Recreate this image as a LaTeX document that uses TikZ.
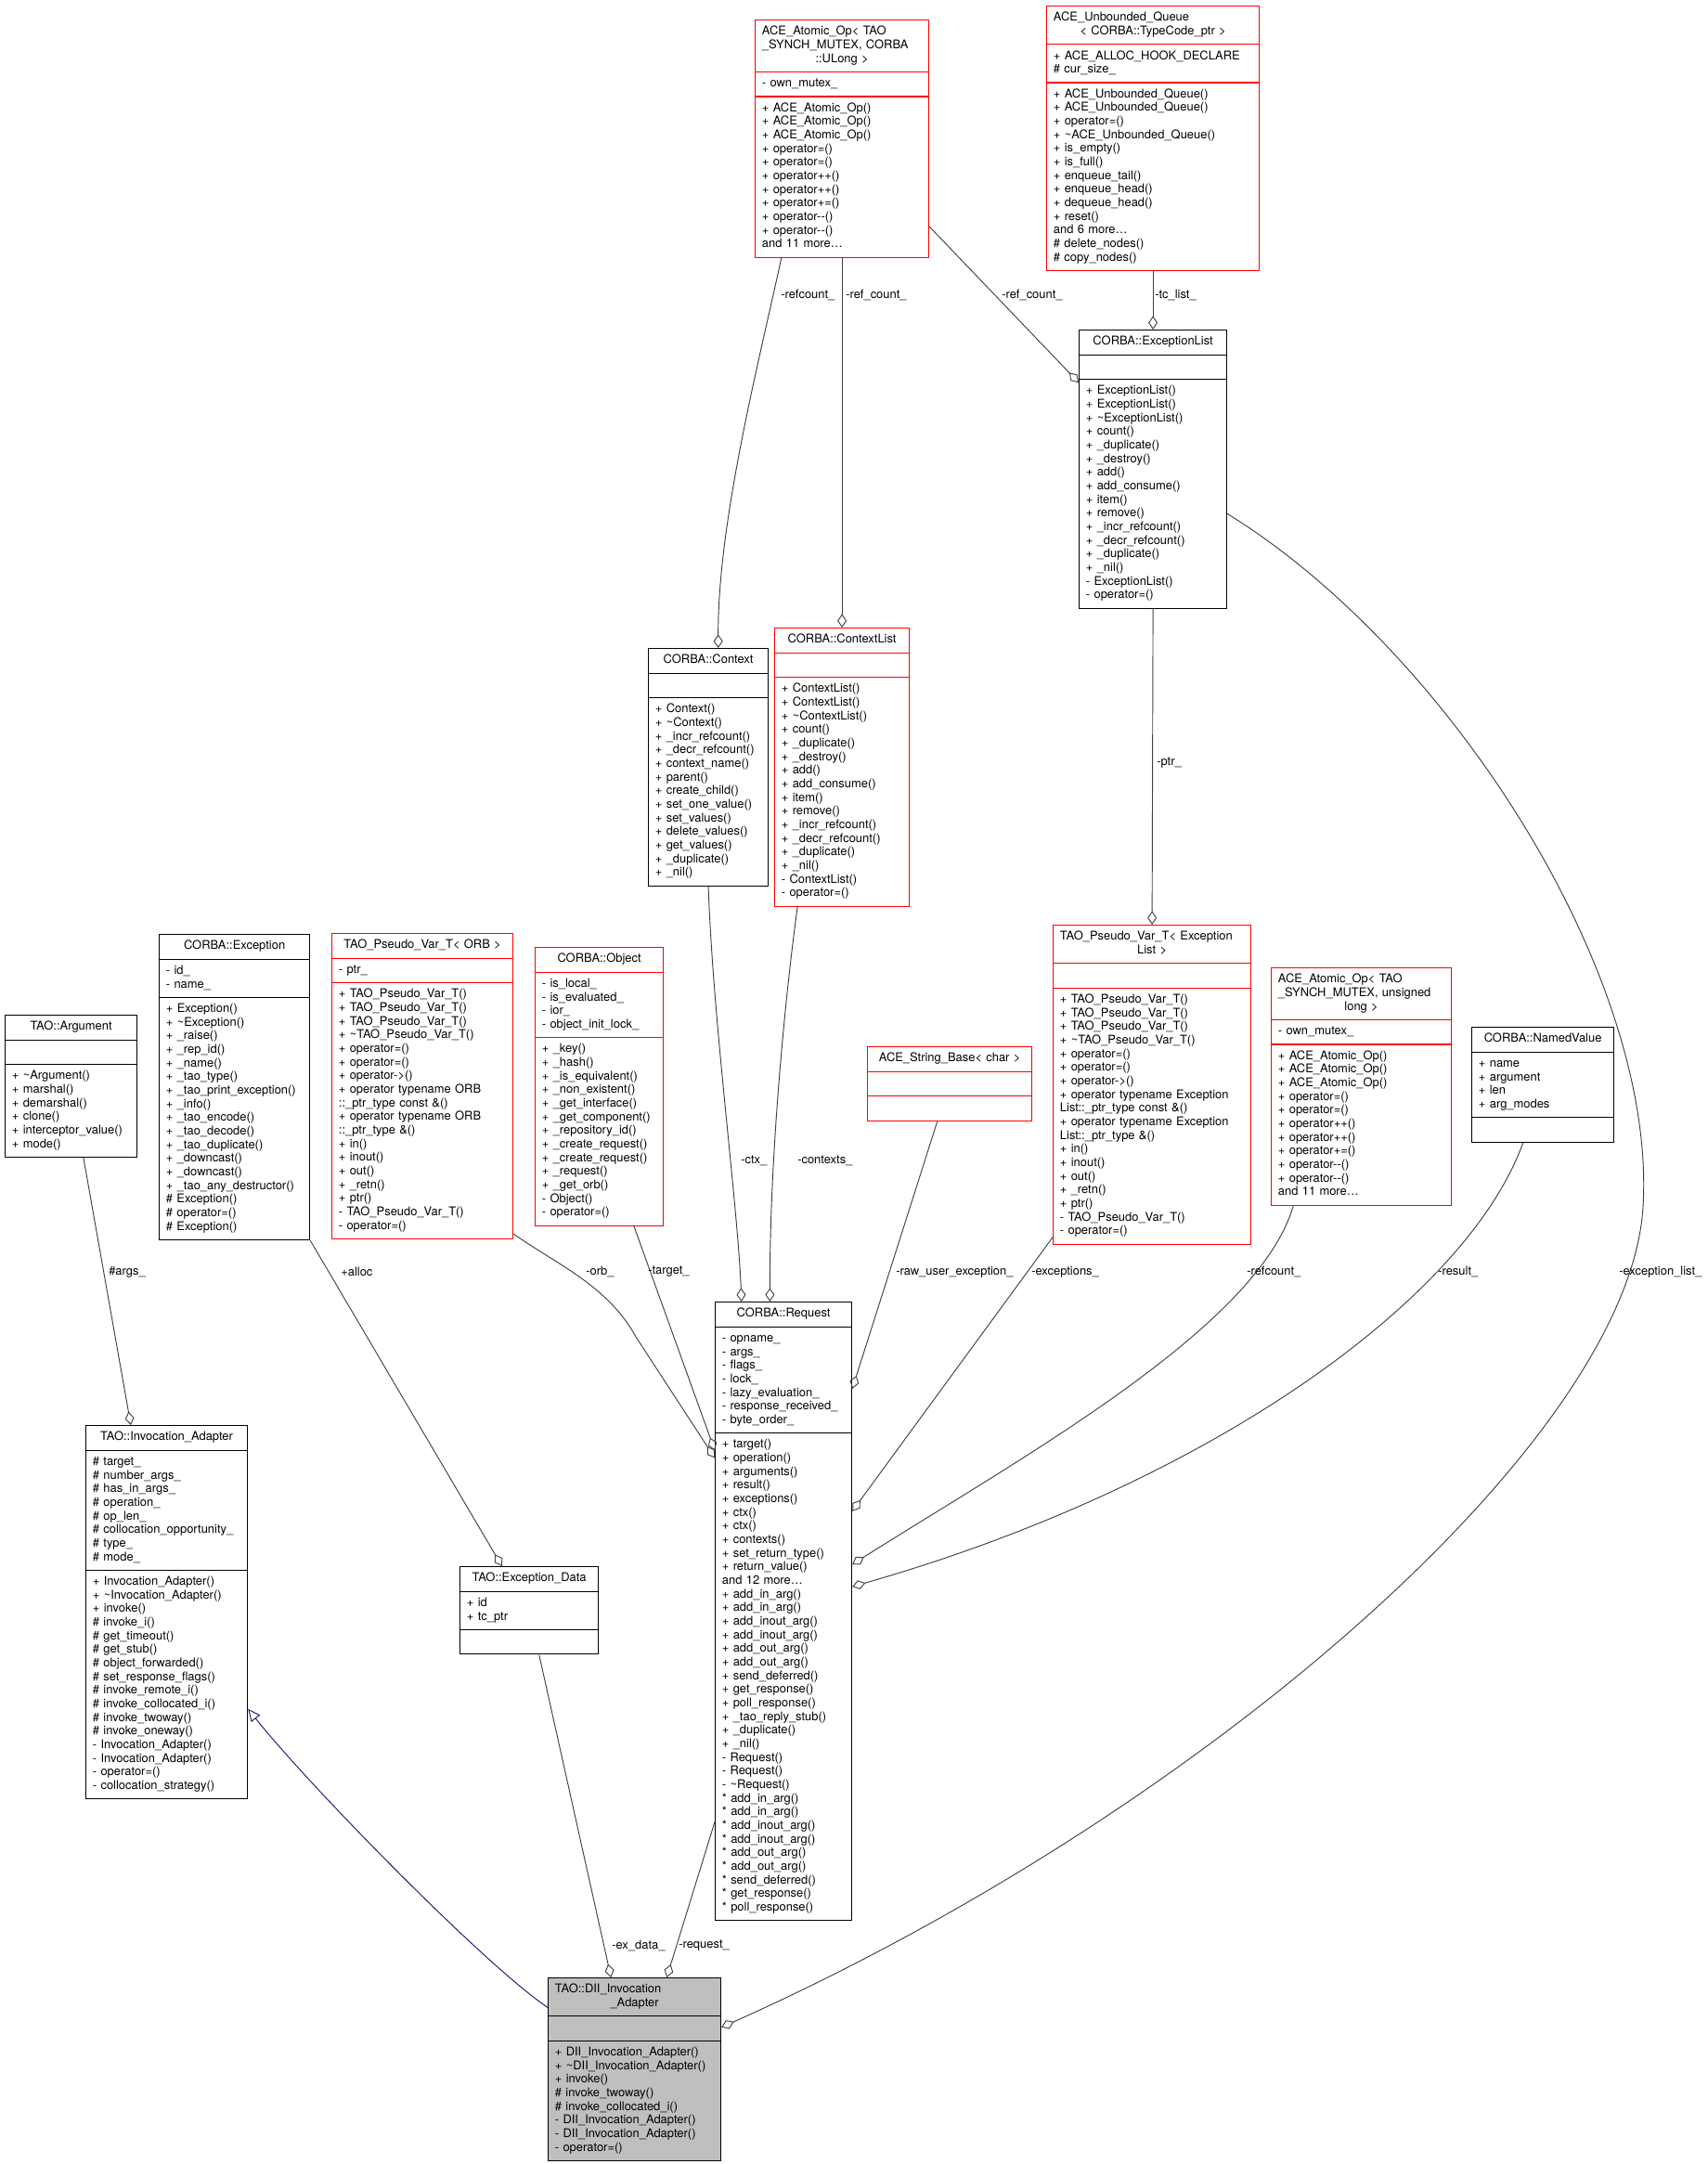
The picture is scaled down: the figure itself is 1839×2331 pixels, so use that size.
\documentclass[tikz,border=0pt]{standalone}
\usepackage{fontspec}
\setmainfont{TeX Gyre Heros}
\usepackage{tikz}
\usetikzlibrary{shapes.multipart,arrows.meta}

\definecolor{edgegray}{HTML}{404040}
\definecolor{inhblue}{HTML}{191970}
\definecolor{clsred}{HTML}{FF0000}
\definecolor{clsgray}{HTML}{BFBFBF}
\setlength{\parindent}{0pt}
\newcommand{\ctr}[1]{\leavevmode\hbox to\hsize{\hfil\strut#1\hfil}}

\tikzset{
  cls/.style={rectangle split, rectangle split parts=3, draw=black, line width=0.9pt,
    anchor=north west, inner xsep=5.5pt, inner ysep=4pt, align=left,
    font=\fontsize{9.7}{11}\selectfont},
  redcls/.style={cls, draw=clsred},
  agg/.style={draw=edgegray, line width=0.7pt, -{Diamond[open, length=11pt, width=7.5pt]}},
  inh/.style={draw=inhblue, line width=0.7pt, -{Triangle[open, length=10pt, width=9pt]}},
  lbl/.style={anchor=west, inner sep=0pt, font=\fontsize{9.7}{11}\selectfont}
}

\begin{document}
\begin{tikzpicture}[x=0.75pt,y=0.75pt,yscale=-1,xscale=1]
\useasboundingbox (0,0) rectangle (1839,2331);

% Class Node
\node [redcls, text width=129.25pt] (atomicUL) at (813,21) {\strut ACE\_Atomic\_Op< TAO\\\_SYNCH\_MUTEX, CORBA\\\ctr{::ULong >}
\nodepart{two}\strut-~own\_mutex\_\strut
\nodepart{three}\strut+~ACE\_Atomic\_Op()\\+~ACE\_Atomic\_Op()\\+~ACE\_Atomic\_Op()\\+~operator=()\\+~operator=()\\+~operator++()\\+~operator++()\\+~operator+=()\\+~operator-{}-()\\+~operator-{}-()\\and 11 more\ldots\strut};
% Class Node
\node [redcls, text width=160.75pt] (queue) at (1127,6) {\strut ACE\_Unbounded\_Queue\\\ctr{< CORBA::TypeCode\_ptr >}
\nodepart{two}\strut+~ACE\_ALLOC\_HOOK\_DECLARE\\\#~cur\_size\_\strut
\nodepart{three}\strut+~ACE\_Unbounded\_Queue()\\+~ACE\_Unbounded\_Queue()\\+~operator=()\\+~\textasciitilde ACE\_Unbounded\_Queue()\\+~is\_empty()\\+~is\_full()\\+~enqueue\_tail()\\+~enqueue\_head()\\+~dequeue\_head()\\+~reset()\\and 6 more\ldots\\\#~delete\_nodes()\\\#~copy\_nodes()\strut};
% Class Node
\node [cls, text width=108.25pt] (exlist) at (1162,355) {\ctr{CORBA::ExceptionList}
\nodepart{two}\strut
\nodepart{three}\strut+~ExceptionList()\\+~ExceptionList()\\+~\textasciitilde ExceptionList()\\+~count()\\+~\_duplicate()\\+~\_destroy()\\+~add()\\+~add\_consume()\\+~item()\\+~remove()\\+~\_incr\_refcount()\\+~\_decr\_refcount()\\+~\_duplicate()\\+~\_nil()\\-~ExceptionList()\\-~operator=()\strut};
% Class Node
\node [cls, text width=85.75pt] (context) at (698,698) {\ctr{CORBA::Context}
\nodepart{two}\strut
\nodepart{three}\strut+~Context()\\+~\textasciitilde Context()\\+~\_incr\_refcount()\\+~\_decr\_refcount()\\+~context\_name()\\+~parent()\\+~create\_child()\\+~set\_one\_value()\\+~set\_values()\\+~delete\_values()\\+~get\_values()\\+~\_duplicate()\\+~\_nil()\strut};
% Class Node
\node [redcls, text width=97.75pt] (ctxlist) at (834,676) {\ctr{CORBA::ContextList}
\nodepart{two}\strut
\nodepart{three}\strut+~ContextList()\\+~ContextList()\\+~\textasciitilde ContextList()\\+~count()\\+~\_duplicate()\\+~\_destroy()\\+~add()\\+~add\_consume()\\+~item()\\+~remove()\\+~\_incr\_refcount()\\+~\_decr\_refcount()\\+~\_duplicate()\\+~\_nil()\\-~ContextList()\\-~operator=()\strut};
% Class Node
\node [cls, text width=95.5pt] (argument) at (5,1093) {\ctr{TAO::Argument}
\nodepart{two}\strut
\nodepart{three}\strut+~\textasciitilde Argument()\\+~marshal()\\+~demarshal()\\+~clone()\\+~interceptor\_value()\\+~mode()\strut};
% Class Node
\node [cls, text width=110.5pt] (exception) at (171,1006) {\ctr{CORBA::Exception}
\nodepart{two}\strut-~id\_\\-~name\_\strut
\nodepart{three}\strut+~Exception()\\+~\textasciitilde Exception()\\+~\_raise()\\+~\_rep\_id()\\+~\_name()\\+~\_tao\_type()\\+~\_tao\_print\_exception()\\+~\_info()\\+~\_tao\_encode()\\+~\_tao\_decode()\\+~\_tao\_duplicate()\\+~\_downcast()\\+~\_downcast()\\+~\_tao\_any\_destructor()\\\#~Exception()\\\#~operator=()\\\#~Exception()\strut};
% Class Node
\node [redcls, text width=135.25pt] (pvorb) at (357,1005) {\ctr{TAO\_Pseudo\_Var\_T< ORB >}
\nodepart{two}\strut-~ptr\_\strut
\nodepart{three}\strut+~TAO\_Pseudo\_Var\_T()\\+~TAO\_Pseudo\_Var\_T()\\+~TAO\_Pseudo\_Var\_T()\\+~\textasciitilde TAO\_Pseudo\_Var\_T()\\+~operator=()\\+~operator=()\\+~operator->()\\+~operator typename ORB\\::\_ptr\_type const \&()\\+~operator typename ORB\\::\_ptr\_type \&()\\+~in()\\+~inout()\\+~out()\\+~\_retn()\\+~ptr()\\-~TAO\_Pseudo\_Var\_T()\\-~operator=()\strut};
% Class Node
\node [redcls, text width=92.5pt] (object) at (576,1020) {\ctr{CORBA::Object}
\nodepart{two}\strut-~is\_local\_\\-~is\_evaluated\_\\-~ior\_\\-~object\_init\_lock\_\strut
\nodepart{three}\strut+~\_key()\\+~\_hash()\\+~\_is\_equivalent()\\+~\_non\_existent()\\+~\_get\_interface()\\+~\_get\_component()\\+~\_repository\_id()\\+~\_create\_request()\\+~\_create\_request()\\+~\_request()\\+~\_get\_orb()\\-~Object()\\-~operator=()\strut};
% Class Node
\node [redcls, text width=148.75pt] (pvexl) at (1134,996) {\strut TAO\_Pseudo\_Var\_T< Exception\\\ctr{List >}
\nodepart{two}\strut
\nodepart{three}\strut+~TAO\_Pseudo\_Var\_T()\\+~TAO\_Pseudo\_Var\_T()\\+~TAO\_Pseudo\_Var\_T()\\+~\textasciitilde TAO\_Pseudo\_Var\_T()\\+~operator=()\\+~operator=()\\+~operator->()\\+~operator typename Exception\\List::\_ptr\_type const \&()\\+~operator typename Exception\\List::\_ptr\_type \&()\\+~in()\\+~inout()\\+~out()\\+~\_retn()\\+~ptr()\\-~TAO\_Pseudo\_Var\_T()\\-~operator=()\strut};
% Class Node
\node [redcls, text width=134.5pt] (atomicL) at (1369,1042) {\strut ACE\_Atomic\_Op< TAO\\\_SYNCH\_MUTEX, unsigned\\\ctr{long >}
\nodepart{two}\strut-~own\_mutex\_\strut
\nodepart{three}\strut+~ACE\_Atomic\_Op()\\+~ACE\_Atomic\_Op()\\+~ACE\_Atomic\_Op()\\+~operator=()\\+~operator=()\\+~operator++()\\+~operator++()\\+~operator+=()\\+~operator-{}-()\\+~operator-{}-()\\and 11 more\ldots\strut};
% Class Node
\node [cls, text width=103.75pt] (namedvalue) at (1585,1106) {\ctr{CORBA::NamedValue}
\nodepart{two}\strut+~name\\+~argument\\+~len\\+~arg\_modes\strut
\nodepart{three}\strut};
% Class Node
\node [redcls, text width=121.75pt] (strbase) at (934,1127) {\ctr{ACE\_String\_Base< char >}
\nodepart{two}\strut
\nodepart{three}\strut};
% Class Node
\node [cls, text width=99.25pt] (request) at (770,1402) {\ctr{CORBA::Request}
\nodepart{two}\strut-~opname\_\\-~args\_\\-~flags\_\\-~lock\_\\-~lazy\_evaluation\_\\-~response\_received\_\\-~byte\_order\_\strut
\nodepart{three}\strut+~target()\\+~operation()\\+~arguments()\\+~result()\\+~exceptions()\\+~ctx()\\+~ctx()\\+~contexts()\\+~set\_return\_type()\\+~return\_value()\\and 12 more\ldots\\+~add\_in\_arg()\\+~add\_in\_arg()\\+~add\_inout\_arg()\\+~add\_inout\_arg()\\+~add\_out\_arg()\\+~add\_out\_arg()\\+~send\_deferred()\\+~get\_response()\\+~poll\_response()\\+~\_tao\_reply\_stub()\\+~\_duplicate()\\+~\_nil()\\-~Request()\\-~Request()\\-~\textasciitilde Request()\\{*}~add\_in\_arg()\\{*}~add\_in\_arg()\\{*}~add\_inout\_arg()\\{*}~add\_inout\_arg()\\{*}~add\_out\_arg()\\{*}~add\_out\_arg()\\{*}~send\_deferred()\\{*}~get\_response()\\{*}~poll\_response()\strut};
% Class Node
\node [cls, text width=119.5pt] (invadapter) at (92,1535) {\ctr{TAO::Invocation\_Adapter}
\nodepart{two}\strut\#~target\_\\\#~number\_args\_\\\#~has\_in\_args\_\\\#~operation\_\\\#~op\_len\_\\\#~collocation\_opportunity\_\\\#~type\_\\\#~mode\_\strut
\nodepart{three}\strut+~Invocation\_Adapter()\\+~\textasciitilde Invocation\_Adapter()\\+~invoke()\\\#~invoke\_i()\\\#~get\_timeout()\\\#~get\_stub()\\\#~object\_forwarded()\\\#~set\_response\_flags()\\\#~invoke\_remote\_i()\\\#~invoke\_collocated\_i()\\\#~invoke\_twoway()\\\#~invoke\_oneway()\\-~Invocation\_Adapter()\\-~Invocation\_Adapter()\\-~operator=()\\-~collocation\_strategy()\strut};
% Class Node
\node [cls, text width=100.75pt] (exdata) at (495,1687) {\ctr{TAO::Exception\_Data}
\nodepart{two}\strut+~id\\+~tc\_ptr\strut
\nodepart{three}\strut};
% Class Node
\node [cls, fill=clsgray, text width=128.5pt] (dii) at (590,2130) {\strut TAO::DII\_Invocation\\\ctr{\_Adapter}
\nodepart{two}\strut
\nodepart{three}\strut+~DII\_Invocation\_Adapter()\\+~\textasciitilde DII\_Invocation\_Adapter()\\+~invoke()\\\#~invoke\_twoway()\\\#~invoke\_collocated\_i()\\-~DII\_Invocation\_Adapter()\\-~DII\_Invocation\_Adapter()\\-~operator=()\strut};

%Curve Lines
\draw [agg] ([xshift=-49pt]atomicUL.south) .. controls (820,380) and (773,560) .. ([xshift=8pt]context.north);
%Straight Lines
\draw [agg] (atomicUL.south) -- (ctxlist.north);
%Straight Lines
\draw [agg] ([yshift=71pt]atomicUL.east) -- ([yshift=-70pt]exlist.west);
%Straight Lines
\draw [agg] (queue.south) -- (exlist.north);
%Straight Lines
\draw [agg] (exlist.south) -- (pvexl.north);
%Curve Lines
\draw [agg] ([yshift=36pt]exlist.east) .. controls (1560,700) and (1785,1050) .. (1770,1300) .. controls (1755,1550) and (1300,1950) .. ([yshift=-34pt]dii.east);
%Curve Lines
\draw [agg] (context.south) .. controls (768,1100) and (795,1300) .. ([xshift=-34pt]request.north);
%Curve Lines
\draw [agg] ([xshift=-36pt]ctxlist.south) .. controls (845,1080) and (829,1250) .. ([xshift=-11pt]request.north);
%Curve Lines
\draw [agg] ([yshift=-4.5pt]pvorb.south east) .. controls (600,1362) and (655,1385) .. (685,1440) -- ([yshift=-124pt]request.west);
%Straight Lines
\draw [agg] ([xshift=28pt]object.south) -- ([yshift=-130pt]request.west);
%Straight Lines
\draw [agg] ([xshift=-10pt]strbase.south) -- ([yshift=-180pt]request.east);
%Straight Lines
\draw [agg] ([yshift=-6pt]pvexl.south west) -- ([yshift=-81pt]request.east);
%Curve Lines
\draw [agg] ([xshift=-55pt]atomicL.south) .. controls (1355,1430) and (1100,1570) .. ([yshift=-38pt]request.east);
%Curve Lines
\draw [agg] ([xshift=-16pt]namedvalue.south) .. controls (1580,1400) and (1300,1600) .. ([yshift=-20pt]request.east);
%Straight Lines
\draw [agg] ([xshift=10pt]argument.south) -- ([xshift=-29pt]invadapter.north);
%Straight Lines
\draw [agg] (exception.south east) -- ([xshift=-22pt]exdata.north);
%Straight Lines
\draw [agg] ([xshift=8pt]exdata.south) -- ([xshift=-19pt]dii.north);
%Straight Lines
\draw [agg] ([yshift=170pt]request.west) -- ([xshift=26pt]dii.north);
%Curve Lines
\draw [inh] ([yshift=-50pt]dii.west) .. controls (520,2115) and (330,1920) .. ([yshift=78pt]invadapter.east);

% Text Node
\node [lbl] (lRefcountCtx) at (841,318) {-refcount\_};
% Text Node
\node [lbl] (lRefcountCtxList) at (911,318) {-ref\_count\_};
% Text Node
\node [lbl] (lRefcountExList) at (1079,318) {-ref\_count\_};
% Text Node
\node [lbl] (lTcList) at (1244,318) {-tc\_list\_};
% Text Node
\node [lbl] (lPtr) at (1246,822) {-ptr\_};
% Text Node
\node [lbl] (lCtx) at (798,1250) {-ctx\_};
% Text Node
\node [lbl] (lContexts) at (859,1250) {-contexts\_};
% Text Node
\node [lbl] (lArgs) at (117,1370) {\#args\_};
% Text Node
\node [lbl] (lAlloc) at (367,1370) {+alloc};
% Text Node
\node [lbl] (lOrb) at (631,1370) {-orb\_};
% Text Node
\node [lbl] (lTarget) at (698,1370) {-target\_};
% Text Node
\node [lbl] (lRawUser) at (965,1370) {-raw\_user\_exception\_};
% Text Node
\node [lbl] (lExceptions) at (1111,1370) {-exceptions\_};
% Text Node
\node [lbl] (lRefcountReq) at (1343,1370) {-refcount\_};
% Text Node
\node [lbl] (lResult) at (1549,1370) {-result\_};
% Text Node
\node [lbl] (lExceptionList) at (1744,1370) {-exception\_list\_};
% Text Node
\node [lbl] (lExData) at (659,2096) {-ex\_data\_};
% Text Node
\node [lbl] (lRequest) at (731,2096) {-request\_};
\end{tikzpicture}
\end{document}
